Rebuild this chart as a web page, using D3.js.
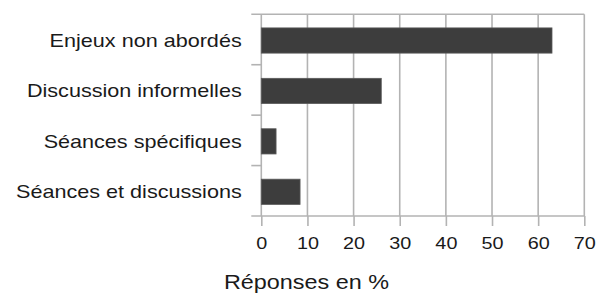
<!DOCTYPE html>
<html>
<head>
<meta charset="utf-8">
<script src="https://cdn.jsdelivr.net/npm/d3@7"></script>
<style>
  body { margin: 0; background: #fff; }
  svg { display: block; }
  text { font-family: "Liberation Sans", Arial, sans-serif; fill: #1a1a1a; }
</style>
</head>
<body>
<div id="chartDiv"></div>
<script>

var categories = ["Enjeux non abordés", "Discussion informelles", "Séances spécifiques", "Séances et discussions"];
var values = [63, 26, 3.2, 8.4];
var xTicks = [0, 10, 20, 30, 40, 50, 60, 70];
var xTitle = "Réponses en %";

var svg = d3.select("#chartDiv").append("svg")
    .attr("width", 603)
    .attr("height", 296);

var margin = {top: 14.3, left: 261.3, right: 18.7, bottom: 80};
var width = 603 - margin.left - margin.right,
    height = 296 - margin.top - margin.bottom;

var stretch = 1.2;   // glyphs in the reference are drawn wide
var gridColor = "#b3b3b3";

var x_scale = d3.scaleLinear().domain([0, 70]).range([margin.left, margin.left + width]);
var y_scale = d3.scaleBand().domain(categories)
    .range([margin.top, margin.top + height])
    .paddingInner(0.5).paddingOuter(0.25);

// vertical grid lines (the 70 one is the right frame)
svg.append("g").selectAll("line").data(xTicks).enter().append("line")
    .attr("x1", function(d){ return x_scale(d); })
    .attr("x2", function(d){ return x_scale(d); })
    .attr("y1", margin.top)
    .attr("y2", margin.top + height)
    .attr("stroke", gridColor)
    .attr("stroke-width", 1.6);

// top frame line
svg.append("line")
    .attr("x1", margin.left - 10).attr("x2", x_scale(70))
    .attr("y1", margin.top).attr("y2", margin.top)
    .attr("stroke", gridColor).attr("stroke-width", 1.6);

// bars
svg.append("g").selectAll("rect").data(values).enter().append("rect")
    .attr("x", x_scale(0))
    .attr("y", function(d, i){ return y_scale(categories[i]) + 1; })
    .attr("width", function(d){ return x_scale(d) - x_scale(0); })
    .attr("height", y_scale.bandwidth())
    .attr("fill", "#3d3d3d")
    .attr("stroke", "#5a5a5a")
    .attr("stroke-width", 0.8);

// x axis
var xAxis = d3.axisBottom(x_scale).tickValues(xTicks).tickSize(10).tickPadding(11);
var xGroup = svg.append("g")
    .attr("transform", "translate(0," + (margin.top + height) + ")")
    .call(xAxis);
xGroup.select(".domain").remove();
xGroup.append("line")
    .attr("x1", margin.left - 10).attr("x2", x_scale(70))
    .attr("y1", 0).attr("y2", 0)
    .attr("stroke", gridColor).attr("stroke-width", 1.6);
xGroup.selectAll(".tick line").attr("stroke", gridColor).attr("stroke-width", 1.6);
xGroup.selectAll(".tick text")
    .attr("font-size", 16.5)
    .attr("font-family", "Liberation Sans, Arial, sans-serif")
    .attr("fill", "#1a1a1a")
    .attr("x", 0)
    .attr("transform", "scale(" + stretch + ",1)");

// category separator ticks
var bounds = categories.map(function(c){ return y_scale(c) - y_scale.step() * y_scale.paddingInner() / 2; });
svg.append("g").selectAll("line").data(bounds.slice(1)).enter().append("line")
    .attr("x1", margin.left - 10).attr("x2", margin.left)
    .attr("y1", function(d){ return d; }).attr("y2", function(d){ return d; })
    .attr("stroke", gridColor).attr("stroke-width", 1.6);

// category labels
var yAxis = d3.axisLeft(y_scale).tickSize(0).tickPadding(0);
var yGroup = svg.append("g").attr("transform", "translate(" + (margin.left - 19.6) + ",1)").call(yAxis);
yGroup.select(".domain").remove();
yGroup.selectAll(".tick text")
    .attr("font-size", 18)
    .attr("font-family", "Liberation Sans, Arial, sans-serif")
    .attr("fill", "#1a1a1a")
    .attr("x", 0)
    .attr("dy", "0.36em")
    .attr("transform", "scale(" + stretch + ",1)");

// axis title
svg.append("text")
    .attr("transform", "translate(306.5,289) scale(" + stretch + ",1)")
    .attr("text-anchor", "middle")
    .attr("font-size", 19.5)
    .text(xTitle);

</script>
</body>
</html>
